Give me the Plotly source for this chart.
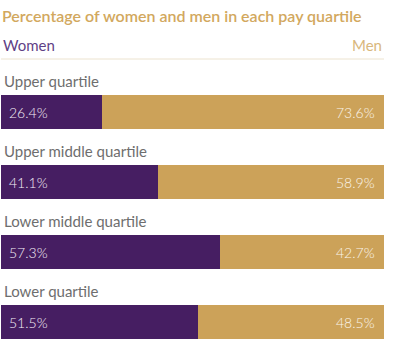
import plotly.graph_objects as go

categories = ["Upper quartile", "Upper middle quartile", "Lower middle quartile", "Lower quartile"]
women = [26.4, 41.1, 57.3, 51.5]
men = [73.6, 58.9, 42.7, 48.5]

PURPLE = "#461e62"
GOLD = "#cca259"
FONT = "Lato, 'Open Sans', sans-serif"

idx = list(range(len(categories)))

fig = go.Figure()
fig.add_trace(go.Bar(y=idx, x=women, orientation="h", marker=dict(color=PURPLE, line=dict(width=0)),
                     hoverinfo="skip", name="Women"))
fig.add_trace(go.Bar(y=idx, x=men, orientation="h", marker=dict(color=GOLD, line=dict(width=0)),
                     hoverinfo="skip", name="Men"))

ann = []
for i, (c, w, m) in enumerate(zip(categories, women, men)):
    ann.append(dict(x=0, y=i - 0.44, xref="x", yref="y", text=c, showarrow=False,
                    xanchor="left", yanchor="middle", xshift=1,
                    font=dict(family=FONT, size=15, color="#6e6e6e", weight=400)))
    ann.append(dict(x=0, y=i, xref="x", yref="y", text=f"{w}%", showarrow=False,
                    xanchor="left", yanchor="middle", xshift=6,
                    font=dict(family=FONT, size=14, color="#f4eef6", weight=300)))
    ann.append(dict(x=w + m, y=i, xref="x", yref="y", text=f"{m}%", showarrow=False,
                    xanchor="right", yanchor="middle", xshift=-7,
                    font=dict(family=FONT, size=14, color="#fbf5ea", weight=300)))

ann.append(dict(x=0, y=1, xref="paper", yref="paper", text="Percentage of women and men in each pay quartile",
                showarrow=False, xanchor="left", yanchor="top", xshift=-1, yshift=-4,
                font=dict(family=FONT, size=16, color="#d2a85e", weight=600)))
ann.append(dict(x=0, y=1, xref="paper", yref="paper", text="Women", showarrow=False,
                xanchor="left", yanchor="top", yshift=-34,
                font=dict(family=FONT, size=15, color="#5f3f86", weight=400)))
ann.append(dict(x=1, y=1, xref="paper", yref="paper", text="Men", showarrow=False,
                xanchor="right", yanchor="top", yshift=-34,
                font=dict(family=FONT, size=15, color="#d9b77c", weight=400)))

fig.update_layout(
    width=408, height=351,
    margin=dict(l=1, r=24, t=0, b=0),
    barmode="stack", bargap=0.514,
    showlegend=False,
    plot_bgcolor="white", paper_bgcolor="white",
    xaxis=dict(range=[0, 100], visible=False, fixedrange=True),
    yaxis=dict(range=[3.414, -1.6], visible=False, fixedrange=True),
    annotations=ann,
    shapes=[dict(type="line", xref="x", yref="paper", x0=0, x1=100, y0=1 - 59 / 351, y1=1 - 59 / 351,
                 line=dict(color="#ece3cf", width=1))],
)

fig.write_html("out.html")
